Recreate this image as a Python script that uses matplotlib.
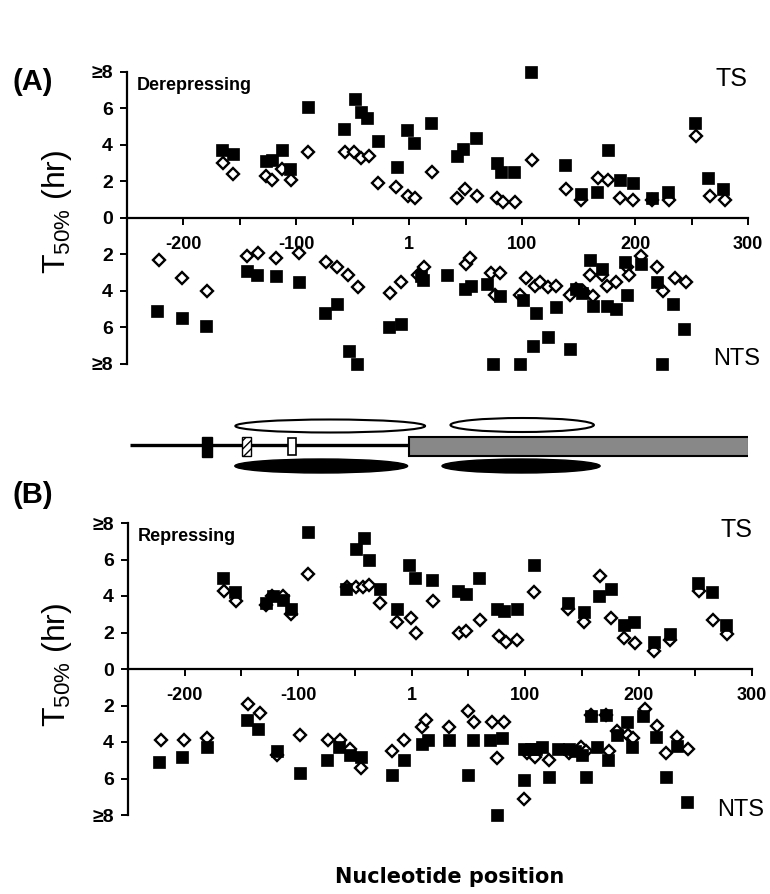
import numpy as np
import matplotlib
matplotlib.use("Agg")
import matplotlib.pyplot as plt
from matplotlib.patches import Rectangle, Ellipse

plt.rcParams['font.family'] = ['Liberation Sans', 'DejaVu Sans']
plt.rcParams['mathtext.fontset'] = 'custom'
plt.rcParams['mathtext.rm'] = 'Liberation Sans'
plt.rcParams['mathtext.it'] = 'Liberation Sans'

# (A) derepressing, transcribed strand
a_ts_sq_x = [-166, -156, -127, -122, -113, -106, -90, -58, -48, -43, -37, -28, -11, -2, 4, 19, 42, 48, 59, 78, 81, 93,
             108, 138, 152, 166, 176, 187, 198, 215, 229, 253, 265, 278]
a_ts_sq_y = [3.7, 3.5, 3.1, 3.2, 3.7, 2.7, 6.1, 4.9, 6.5, 5.8, 5.5, 4.2, 2.8, 4.8, 4.1, 5.2, 3.4, 3.8, 4.4, 3.0, 2.5, 2.5,
             8.0, 2.9, 1.3, 1.4, 3.7, 2.1, 1.9, 1.1, 1.4, 5.2, 2.2, 1.6]
a_ts_dm_x = [-165, -156, -127, -122, -113, -105, -90, -57, -49, -43, -36, -28, -12, -1, 5, 20, 42, 49, 60, 78, 83, 94,
             109, 139, 152, 167, 176, 187, 198, 215, 230, 254, 266, 280]
a_ts_dm_y = [3.0, 2.4, 2.3, 2.1, 2.7, 2.1, 3.6, 3.6, 3.6, 3.3, 3.4, 1.9, 1.7, 1.2, 1.1, 2.5, 1.1, 1.6, 1.2, 1.1, 0.9, 0.9,
             3.2, 1.6, 1.0, 2.2, 2.1, 1.1, 1.0, 1.0, 1.0, 4.5, 1.2, 1.0]

# (A) derepressing, non-transcribed strand
a_nts_sq_x = [-223, -201, -180, -144, -135, -118, -98, -75, -64, -53, -46, -18, -7, 10, 12, 33, 49, 55, 69, 74, 80, 98,
              101, 110, 112, 123, 130, 142, 148, 153, 160, 163, 171, 175, 183, 191, 193, 205, 219, 224, 234, 243]
a_nts_sq_y = [5.1, 5.5, 5.9, 2.9, 3.1, 3.2, 3.5, 5.2, 4.7, 7.3, 8.0, 6.0, 5.8, 3.2, 3.4, 3.1, 3.9, 3.7, 3.6, 8.0, 4.3, 8.0,
              4.5, 7.0, 5.2, 6.5, 4.9, 7.2, 3.9, 4.1, 2.3, 4.8, 2.8, 4.8, 5.0, 2.4, 4.2, 2.5, 3.5, 8.0, 4.7, 6.1]
a_nts_dm_x = [-222, -201, -179, -144, -134, -118, -98, -74, -64, -54, -45, -17, -7, 8, 13, 50, 54, 72, 76, 80, 98, 103,
              111, 116, 123, 130, 142, 148, 154, 160, 163, 171, 175, 183, 193, 195, 205, 219, 225, 235, 245]
a_nts_dm_y = [2.3, 3.3, 4.0, 2.1, 1.9, 2.2, 1.9, 2.4, 2.7, 3.1, 3.8, 4.1, 3.5, 3.1, 2.7, 2.5, 2.2, 3.0, 4.2, 3.0, 4.2, 3.3,
              3.7, 3.5, 3.8, 3.7, 4.2, 3.9, 4.0, 3.1, 4.3, 3.1, 3.7, 3.5, 2.7, 3.1, 2.1, 2.7, 4.0, 3.3, 3.5]

# (B) repressing, transcribed strand
b_ts_sq_x = [-166, -156, -128, -122, -113, -106, -91, -58, -49, -42, -38, -28, -13, -2, 3, 18, 41, 48, 59, 75, 81, 93,
             108, 138, 152, 165, 176, 187, 196, 214, 228, 252, 265, 277]
b_ts_sq_y = [5.0, 4.2, 3.6, 4.0, 3.8, 3.3, 7.5, 4.4, 6.6, 7.2, 6.0, 4.4, 3.3, 5.7, 5.0, 4.9, 4.3, 4.1, 5.0, 3.3, 3.2, 3.3,
             5.7, 3.6, 3.1, 4.0, 4.4, 2.4, 2.6, 1.5, 1.9, 4.7, 4.2, 2.4]
b_ts_dm_x = [-165, -155, -128, -123, -113, -106, -91, -57, -49, -43, -38, -28, -13, -1, 4, 19, 42, 48, 60, 77, 83, 93,
             108, 138, 152, 166, 176, 187, 197, 214, 228, 253, 266, 278]
b_ts_dm_y = [4.3, 3.7, 3.5, 4.0, 4.0, 3.0, 5.2, 4.5, 4.5, 4.5, 4.6, 3.6, 2.6, 2.8, 2.0, 3.7, 2.0, 2.1, 2.7, 1.8, 1.5, 1.6,
             4.2, 3.3, 2.6, 5.1, 2.8, 1.7, 1.4, 1.0, 1.6, 4.3, 2.7, 1.9]

# (B) repressing, non-transcribed strand
b_nts_sq_x = [-223, -202, -180, -145, -135, -119, -98, -75, -64, -54, -45, -17, -7, 9, 14, 33, 50, 54, 69, 75, 80, 99,
              99, 105, 110, 115, 121, 129, 139, 144, 150, 154, 158, 163, 171, 173, 181, 190, 194, 204, 215, 224, 234, 243]
b_nts_sq_y = [5.1, 4.8, 4.3, 2.8, 3.3, 4.5, 5.7, 5.0, 4.3, 4.7, 4.8, 5.8, 5.0, 4.1, 3.9, 3.9, 5.8, 3.9, 3.9, 8.0, 3.8, 6.1,
              4.4, 4.4, 4.4, 4.3, 5.9, 4.4, 4.4, 4.5, 4.7, 5.9, 2.6, 4.3, 2.5, 5.0, 3.6, 2.9, 4.3, 2.6, 3.7, 5.9, 4.2, 7.3]
b_nts_dm_x = [-221, -201, -180, -144, -134, -119, -98, -74, -63, -54, -45, -17, -7, 9, 13, 33, 50, 55, 71, 75, 81, 99,
              102, 109, 121, 139, 149, 154, 158, 171, 174, 181, 191, 195, 206, 216, 224, 234, 244]
b_nts_dm_y = [3.9, 3.9, 3.8, 1.9, 2.4, 4.7, 3.6, 3.9, 3.9, 4.4, 5.4, 4.5, 3.9, 3.2, 2.8, 3.2, 2.3, 2.9, 2.9, 4.9, 2.9, 7.1,
              4.6, 4.8, 5.0, 4.6, 4.3, 4.5, 2.5, 2.5, 4.5, 3.4, 3.6, 3.8, 2.2, 3.1, 4.6, 3.7, 4.4]

x_ticks = [-200, -100, 0, 100, 200, 300]
x_labels = ['-200', '-100', '1', '100', '200', '300']
y_ticks = [8, 6, 4, 2, 0, -2, -4, -6, -8]
y_labels = ['\u22658', '6', '4', '2', '0', '2', '4', '6', '\u22658']

W, H = 770, 894
fig = plt.figure(figsize=(W / 100, H / 100), dpi=100)


def px(x, y):
    return x / W, 1 - y / H


def panel(rect, ts_sq, ts_dm, nts_sq, nts_dm, title):
    ax = fig.add_axes(rect)
    ax.set_xlim(-250, 300)
    ax.set_ylim(-8, 8)
    kw_dm = dict(marker='D', ms=6.5, mfc='white', mec='black', mew=1.7, ls='none', clip_on=False, zorder=3)
    kw_sq = dict(marker='s', ms=8, mfc='black', mec='black', mew=0.5, ls='none', clip_on=False, zorder=4)
    ax.plot(ts_dm[0], ts_dm[1], **kw_dm)
    ax.plot(nts_dm[0], -np.array(nts_dm[1]), **kw_dm)
    ax.plot(ts_sq[0], ts_sq[1], **kw_sq)
    ax.plot(nts_sq[0], -np.array(nts_sq[1]), **kw_sq)

    for s in ['top', 'right']:
        ax.spines[s].set_visible(False)
    ax.spines['bottom'].set_position(('data', 0))
    ax.spines['left'].set_linewidth(1.6)
    ax.spines['bottom'].set_linewidth(1.6)
    ax.set_xticks(x_ticks)
    ax.set_xticks(np.arange(-200, 301, 50), minor=True)
    ax.set_xticklabels(x_labels, fontsize=13, fontweight='bold')
    ax.tick_params(axis='x', which='both', direction='out', length=5, width=1.4, pad=8)
    ax.set_yticks(y_ticks)
    ax.set_yticklabels(y_labels, fontsize=14, fontweight='bold')
    ax.tick_params(axis='y', direction='out', length=5, width=1.4, pad=5)
    ax.patch.set_alpha(0)

    ax.text(-241, 7.25, title, fontsize=13, fontweight='bold', va='center', ha='left')
    ax.text(300, 7.6, 'TS', fontsize=18, va='center', ha='right')
    ax.text(311, -7.7, 'NTS', fontsize=17, va='center', ha='right')
    return ax


ax_a = panel([127 / W, 1 - 364 / H, 621 / W, 292 / H],
             (a_ts_sq_x, a_ts_sq_y), (a_ts_dm_x, a_ts_dm_y),
             (a_nts_sq_x, a_nts_sq_y), (a_nts_dm_x, a_nts_dm_y), 'Derepressing')
ax_b = panel([128 / W, 1 - 815 / H, 624 / W, 292 / H],
             (b_ts_sq_x, b_ts_sq_y), (b_ts_dm_x, b_ts_dm_y),
             (b_nts_sq_x, b_nts_sq_y), (b_nts_dm_x, b_nts_dm_y), 'Repressing')

# gene map between the panels, in nucleotide units along x
ax_d = fig.add_axes([127 / W, 1 - 480 / H, 621 / W, 70 / H])
ax_d.set_xlim(-250, 300)
ax_d.set_ylim(0, 70)
ax_d.axis('off')
ax_d.plot([-247, 0], [35, 35], color='black', lw=2.4, solid_capstyle='butt', zorder=1)
ax_d.add_patch(Rectangle((0, 24), 301, 19, fc='#888888', ec='black', lw=1.5, zorder=2))
ax_d.add_patch(Rectangle((-184, 23), 9, 20, fc='black', ec='black', lw=1, zorder=2))
ax_d.add_patch(Rectangle((-148, 24), 8, 19, fc='white', ec='black', lw=1, hatch='////', zorder=2))
ax_d.add_patch(Rectangle((-107, 25), 7, 17, fc='white', ec='black', lw=1.2, zorder=2))
ax_d.add_patch(Ellipse((-70, 54), 168, 13, fc='white', ec='black', lw=1.5))
ax_d.add_patch(Ellipse((100, 55), 127, 14, fc='white', ec='black', lw=1.5))
ax_d.add_patch(Ellipse((-78, 14), 153, 14, fc='black', ec='black'))
ax_d.add_patch(Ellipse((99, 14), 140, 14, fc='black', ec='black'))

fig.text(*px(12, 82), '(A)', fontsize=21, fontweight='bold', va='center', ha='left')
fig.text(*px(12, 495), '(B)', fontsize=21, fontweight='bold', va='center', ha='left')
for yc in (212, 665):
    fig.text(*px(57, yc), r'T$_{\mathrm{50\%}}$ (hr)', fontsize=23, rotation=90, va='center', ha='center')
fig.text(*px(450, 877), 'Nucleotide position', fontsize=15, fontweight='bold',
         family=['DejaVu Sans'], va='center', ha='center')

fig.savefig('out.png', dpi=100)
